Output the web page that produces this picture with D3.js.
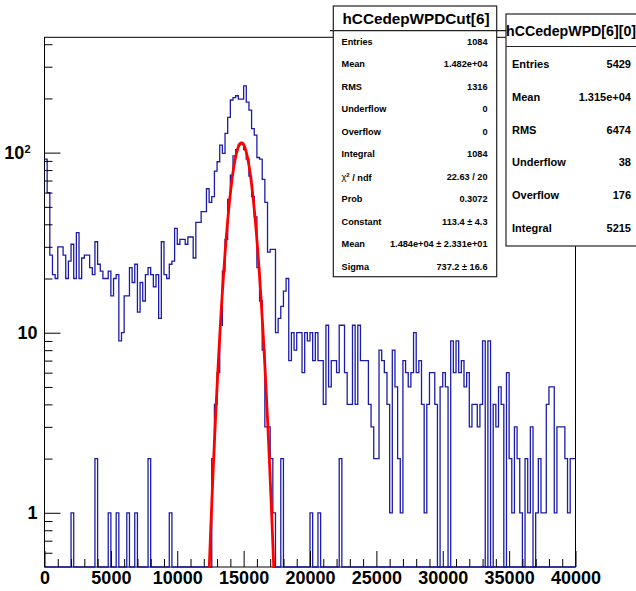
<!DOCTYPE html>
<html>
<head>
<meta charset="utf-8">
<script src="https://cdn.jsdelivr.net/npm/d3@7"></script>
<style>
  html, body { margin: 0; padding: 0; background: #fff; }
  svg { display: block; }
</style>
</head>
<body>
<svg id="chart" width="636" height="591"></svg>
<script>
// ---- histogram data: 200 bins of width 200 between 0 and 40000 ----
const xLimits = [0, 40000];
const binWidth = 200;

// hCCedepWPD[6][0] bin contents
const allCounts = [
  92, 60, 27, 21, 20, 30, 30, 27, 20, 25,
  31, 20, 36, 20, 26, 27, 27, 23, 21, 32,
  24, 22, 20, 20, 22, 16, 20, 21, 9, 10,
  16, 16, 23, 19, 24, 13, 19, 15, 21, 23,
  21, 18, 21, 12, 32, 21, 20, 24, 25, 38,
  31, 33, 33, 31, 34, 34, 26, 41, 41, 47,
  47, 63, 53, 57, 79, 89, 110, 99, 128, 157,
  196, 202, 207, 198, 198, 235, 191, 172, 136, 125,
  94, 92, 71, 53, 28, 29, 29, 10, 12, 14,
  17, 20, 7, 10, 8, 10, 10, 6, 10, 9,
  10, 7, 10, 7, 7, 4, 11, 5, 7, 7,
  6, 11, 11, 6, 4, 4, 11, 4, 11, 7,
  7, 7, 4, 3, 2, 2, 8, 7, 6, 4,
  1, 8, 5, 2, 1, 7, 6, 5, 6, 10,
  6, 7, 4, 1, 4, 6, 6, 4, 0, 5,
  6, 5, 0, 9, 6, 9, 6, 7, 5, 6,
  3, 4, 4, 3, 4, 9, 0, 9, 0, 4,
  3, 5, 4, 0, 6, 2, 1, 3, 2, 1,
  0, 2, 1, 3, 0, 1, 2, 1, 1, 4,
  5, 5, 1, 3, 3, 3, 2, 1, 2, 2
];

// hCCedepWPDCut[6]: non-empty bins (bin index, content)
const cutBins = [10, 19, 24, 27, 31, 34, 39, 47,
  63, 64, 65, 66, 67, 68, 69, 70, 71, 72, 73, 74, 75, 76, 77, 78, 79, 80,
  81, 82, 83, 84, 85, 86, 89, 100, 103, 111];
const cutCounts = [1, 2, 1, 1, 1, 1, 2, 1,
  2, 4, 6, 11, 22, 33, 55, 75, 96, 104, 111, 113, 104, 92, 74, 57, 44, 23,
  15, 8, 3, 3, 2, 1, 2, 1, 1, 2];

// Gaussian fit to hCCedepWPDCut[6]
const fitConstant = 113.4;
const fitMean = 1.484e4;
const fitSigma = 737.2;
const fitRange = [12400, 17400];

// axes
const xMajorTicks = [0, 5000, 10000, 15000, 20000, 25000, 30000, 35000, 40000];
const yLimits = [0.5, 437];
const yMajorTicks = [1, 10, 100];
const yMinorTicks = [0.6, 0.7, 0.8, 0.9, 2, 3, 4, 5, 6, 7, 8, 9,
  20, 30, 40, 50, 60, 70, 80, 90, 200, 300, 400];

// statistics boxes
const cutTitle = "hCCedepWPDCut[6]";
const cutStatLabels = ["Entries", "Mean", "RMS", "Underflow", "Overflow", "Integral",
  "chi2", "Prob", "Constant", "Mean", "Sigma"];
const cutStatValues = ["1084", "1.482e+04", "1316", "0", "0", "1084",
  "22.63 / 20", "0.3072", "113.4 \u00b1 4.3", "1.484e+04 \u00b1 2.331e+01", "737.2 \u00b1 16.6"];

const allTitle = "hCCedepWPD[6][0]";
const allStatLabels = ["Entries", "Mean", "RMS", "Underflow", "Overflow", "Integral"];
const allStatValues = ["5429", "1.315e+04", "6474", "38", "176", "5215"];

// ---- layout ----
const frame = { left: 44.5, right: 575.5, top: 37.3, bottom: 567 };
const FONT = "'Liberation Sans', Arial, Helvetica, sans-serif";
const histColor = "#1c1ca6";

const svg = d3.select("#chart");
svg.append("rect").attr("width", 636).attr("height", 591).attr("fill", "#fff");

const x = d3.scaleLinear().domain(xLimits).range([frame.left, frame.right]);
const y = d3.scaleLog().domain(yLimits).range([frame.bottom, frame.top]);

svg.append("clipPath").attr("id", "frameClip")
  .append("rect")
  .attr("x", frame.left).attr("y", frame.top - 1)
  .attr("width", frame.right - frame.left)
  .attr("height", frame.bottom - frame.top + 2);

// frame box
svg.append("rect")
  .attr("x", frame.left).attr("y", frame.top)
  .attr("width", frame.right - frame.left)
  .attr("height", frame.bottom - frame.top)
  .attr("fill", "none").attr("stroke", "#000").attr("stroke-width", 1);

// step outline of a histogram; empty bins fall to the bottom of the frame
function stepPoints(counts) {
  const pts = [];
  counts.forEach((c, i) => {
    const x0 = xLimits[0] + i * binWidth;
    const yy = c > 0 ? y(c) : frame.bottom;
    pts.push([x(x0), yy], [x(x0 + binWidth), yy]);
  });
  return pts;
}
const line = d3.line();

const plot = svg.append("g").attr("clip-path", "url(#frameClip)");

plot.append("path")
  .attr("d", line(stepPoints(allCounts)))
  .attr("fill", "none").attr("stroke", histColor).attr("stroke-width", 1.3);

const cutFull = new Array(allCounts.length).fill(0);
cutBins.forEach((b, k) => { cutFull[b] = cutCounts[k]; });
plot.append("path")
  .attr("d", line(stepPoints(cutFull)))
  .attr("fill", "none").attr("stroke", histColor).attr("stroke-width", 1.3);

// fitted gaussian
const gauss = v => fitConstant * Math.exp(-0.5 * Math.pow((v - fitMean) / fitSigma, 2));
const fitPts = d3.range(0, 101).map(k => {
  const v = fitRange[0] + (fitRange[1] - fitRange[0]) * k / 100;
  return [x(v), y(Math.max(gauss(v), 0.3))];
});
plot.append("path")
  .attr("d", line(fitPts))
  .attr("fill", "none").attr("stroke", "#ff0000").attr("stroke-width", 2.8)
  .attr("stroke-linejoin", "round");

// ---- axes ----
const xAxisG = svg.append("g").attr("transform", `translate(0,${frame.bottom})`);
xAxisG.call(d3.axisBottom(x).tickValues(d3.range(1000, 40000, 1000).filter(v => v % 5000 !== 0))
  .tickSizeInner(-8).tickSizeOuter(0).tickFormat(""));
xAxisG.call(g => g.select(".domain").remove());
const xMajorG = svg.append("g").attr("transform", `translate(0,${frame.bottom})`);
xMajorG.call(d3.axisBottom(x).tickValues(xMajorTicks)
  .tickSizeInner(-16).tickSizeOuter(0).tickPadding(4).tickFormat(d3.format("d")));
xMajorG.select(".domain").remove();
xMajorG.selectAll("text")
  .attr("font-family", FONT).attr("font-size", 18).attr("font-weight", "bold").attr("fill", "#000");

const yMinorG = svg.append("g").attr("transform", `translate(${frame.left},0)`);
yMinorG.call(d3.axisLeft(y).tickValues(yMinorTicks).tickSizeInner(-8).tickSizeOuter(0).tickFormat(""));
yMinorG.select(".domain").remove();
const yMajorG = svg.append("g").attr("transform", `translate(${frame.left},0)`);
yMajorG.call(d3.axisLeft(y).tickValues(yMajorTicks).tickSizeInner(-16).tickSizeOuter(0)
  .tickPadding(7).tickFormat(d => d >= 100 ? "10" : String(d)));
yMajorG.select(".domain").remove();
yMajorG.selectAll("text")
  .attr("font-family", FONT).attr("font-size", 18).attr("font-weight", "bold").attr("fill", "#000")
  .each(function(d) {
    if (d >= 100) {
      const t = d3.select(this);
      t.text("10").attr("dx", "-7");
      t.append("tspan").attr("dy", "-0.55em").attr("font-size", 11).text(Math.round(Math.log10(d)));
    }
  });
svg.selectAll(".tick line").attr("stroke", "#000").attr("stroke-width", 1);

// ---- statistics boxes ----
function statBox(opt) {
  const g = svg.append("g");
  g.append("rect")
    .attr("x", opt.x).attr("y", opt.y).attr("width", opt.w).attr("height", opt.h)
    .attr("fill", "#fff").attr("stroke", "#222").attr("stroke-width", 1.2);
  g.append("line")
    .attr("x1", opt.sepX[0]).attr("x2", opt.sepX[1])
    .attr("y1", opt.sepY).attr("y2", opt.sepY)
    .attr("stroke", "#222").attr("stroke-width", 1.2);
  g.append("text")
    .attr("x", opt.titleX).attr("y", opt.titleY)
    .attr("text-anchor", "middle")
    .attr("font-family", FONT).attr("font-size", opt.titleSize)
    .attr("font-weight", "bold").attr("fill", "#000")
    .text(opt.title);
  opt.labels.forEach((lab, i) => {
    const yy = opt.row0 + i * opt.rowStep + opt.rowSize * 0.36;
    const t = g.append("text")
      .attr("x", opt.labelX).attr("y", yy)
      .attr("font-family", FONT).attr("font-size", opt.rowSize)
      .attr("font-weight", "bold").attr("fill", "#000");
    if (lab === "chi2") {
      t.append("tspan").attr("font-weight", "normal").text("\u03c7");
      t.append("tspan").attr("dy", "-0.45em").attr("font-size", opt.rowSize * 0.65).text("2");
      t.append("tspan").attr("dy", "0.45em").text(" / ndf");
    } else {
      t.text(lab);
    }
    g.append("text")
      .attr("x", opt.valueX).attr("y", yy).attr("text-anchor", "end")
      .attr("font-family", FONT).attr("font-size", opt.rowSize)
      .attr("font-weight", "bold").attr("fill", "#000")
      .text(opt.values[i]);
  });
}

statBox({
  x: 506, y: 14, w: 140, h: 232, sepX: [506, 646], sepY: 46.5,
  title: allTitle, titleX: 571, titleY: 36, titleSize: 14.2,
  labels: allStatLabels, values: allStatValues,
  labelX: 512, valueX: 631, row0: 64, rowStep: 32.8, rowSize: 11
});

statBox({
  x: 333.3, y: 6, w: 163.4, h: 270.7, sepX: [330, 506], sepY: 30.7,
  title: cutTitle, titleX: 416, titleY: 24, titleSize: 15.3,
  labels: cutStatLabels, values: cutStatValues,
  labelX: 341.5, valueX: 487.5, row0: 41.5, rowStep: 22.5, rowSize: 9.2
});
</script>
</body>
</html>
